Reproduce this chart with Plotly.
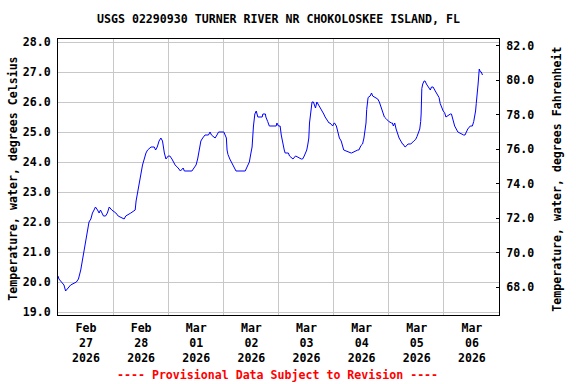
import datetime as dt
import plotly.graph_objects as go

# ---- data (hours after 2026-02-27 00:00, water temperature in deg C) ----
hours = [
    0.0, 0.4, 1.5, 2.6, 3.3, 4.5, 5.5, 8.0, 8.9, 9.9, 10.6, 11.4, 12.1, 12.8, 13.5,
    14.3, 15.0, 15.7, 16.3, 17.2, 17.9, 18.5, 19.8, 20.7, 21.5, 22.3, 23.4, 25.2,
    26.2, 28.8, 29.5, 31.7, 33.6, 34.0, 34.6, 35.3, 36.1, 36.8, 37.5, 38.3, 39.0,
    40.5, 41.9, 42.5, 43.2, 44.0, 44.8, 45.5, 46.3, 47.0, 48.0, 48.7, 49.6, 50.2,
    51.0, 52.3, 53.3, 54.5, 55.0, 58.3, 59.3, 60.1, 60.8, 61.5, 62.2, 63.0, 64.0,
    65.5, 66.2, 66.8, 68.4, 69.2, 69.9, 72.2, 72.6, 73.3, 73.6, 74.0, 74.8, 75.5,
    76.2, 76.9, 77.5, 81.5, 82.0, 82.6, 83.3, 84.0, 84.5, 85.1, 85.7, 86.3, 86.6,
    87.0, 88.9, 89.2, 90.3, 90.5, 91.3, 92.0, 95.0, 95.3, 96.0, 96.7, 97.2, 97.6,
    98.0, 98.5, 98.9, 100.3, 100.8, 102.2, 102.3, 103.4, 103.5, 105.9, 106.5,
    107.2, 107.7, 108.3, 108.8, 109.2, 109.5, 109.9, 110.6, 111.2, 112.1, 112.7,
    113.5, 114.3, 115.2, 115.7, 116.3, 117.0, 118.0, 118.4, 119.3, 119.6, 120.2,
    120.4, 121.2, 121.6, 122.0, 122.5, 123.3, 124.0, 124.4, 127.6, 127.8, 130.5,
    131.0, 131.9, 132.6, 133.2, 133.6, 134.1, 134.4, 135.0, 135.9, 136.5, 137.0,
    138.4, 139.2, 139.9, 140.7, 141.4, 142.1, 142.8, 144.0, 145.2, 145.6, 146.0,
    146.6, 147.2, 147.8, 148.5, 150.0, 150.2, 151.1, 151.2, 152.4, 153.6, 154.9,
    155.7, 156.3, 156.8, 157.5, 157.9, 158.1, 158.4, 158.8, 159.4, 159.8, 160.4,
    161.1, 161.6, 162.1, 162.6, 163.3, 164.0, 164.7, 165.4, 165.9, 166.4, 167.0,
    167.7, 168.3, 168.9, 170.8, 171.3, 172.0, 172.7, 173.4, 174.1, 176.6, 177.2,
    177.8, 178.4, 179.5, 180.4, 181.0, 181.4, 181.8, 182.1, 182.6, 182.9, 183.4,
    183.9, 184.3, 184.8,
]
temps_c = [
    20.2, 20.1, 20.0, 19.9, 19.7, 19.8, 19.9, 20.0, 20.1, 20.4, 20.7, 21.0, 21.3, 21.6, 22.0,
    22.1, 22.3, 22.4, 22.5, 22.4, 22.3, 22.4, 22.2, 22.2, 22.3, 22.5, 22.4, 22.3,
    22.2, 22.1, 22.2, 22.3, 22.4, 22.7, 23.0, 23.3, 23.6, 23.9, 24.1, 24.3, 24.4,
    24.5, 24.5, 24.4, 24.5, 24.7, 24.8, 24.7, 24.3, 24.1, 24.2, 24.2, 24.1, 24.0,
    23.9, 23.8, 23.7, 23.8, 23.7, 23.7, 23.8, 23.9, 24.1, 24.4, 24.7, 24.8, 24.9,
    24.9, 25.0, 24.9, 24.8, 24.9, 25.0, 25.0, 24.9, 24.8, 24.4, 24.25, 24.1, 24.0,
    23.9, 23.8, 23.7, 23.7, 23.8, 23.9, 24.0, 24.3, 24.5, 25.2, 25.6, 25.7, 25.6,
    25.5, 25.5, 25.6, 25.6, 25.5, 25.35, 25.2, 25.2, 25.3, 25.2, 25.2, 24.9, 24.7,
    24.6, 24.4, 24.3, 24.3, 24.2, 24.1, 24.1, 24.2, 24.2, 24.1, 24.1, 24.2,
    24.3, 24.4, 24.6, 24.8, 25.3, 25.6, 26.0, 26.0, 25.8, 26.0, 25.9,
    25.8, 25.7, 25.6, 25.5, 25.4, 25.3, 25.3, 25.2, 25.2, 25.3, 25.3,
    25.2, 25.1, 25.0, 24.8, 24.7, 24.55, 24.4, 24.3, 24.3, 24.4, 24.4,
    24.55, 24.6, 24.8, 25.05, 25.3, 25.75, 26.15, 26.2, 26.3, 26.2, 26.15,
    26.1, 26.0, 25.8, 25.7, 25.5, 25.45, 25.35, 25.3, 25.3, 25.2, 25.3,
    25.1, 24.95, 24.8, 24.6, 24.6, 24.5, 24.5, 24.6, 24.6, 24.7, 24.75,
    24.85, 24.95, 25.1, 25.35, 25.6, 26.45, 26.6, 26.7, 26.7, 26.6, 26.5,
    26.45, 26.4, 26.5, 26.5, 26.4, 26.3, 26.2, 26.15, 25.95, 25.8, 25.7,
    25.65, 25.5, 25.6, 25.6, 25.4, 25.2, 25.1, 25.0, 24.9, 24.9, 25.0,
    25.1, 25.2, 25.2, 25.35, 25.5, 25.7, 25.95, 26.25, 26.6, 27.1, 27.0,
    27.0, 26.9, 26.8,
]
day_labels = ["Feb<br>27<br>2026", "Feb<br>28<br>2026", "Mar<br>01<br>2026", "Mar<br>02<br>2026",
              "Mar<br>03<br>2026", "Mar<br>04<br>2026", "Mar<br>05<br>2026", "Mar<br>06<br>2026"]
c_ticks = [19.0, 20.0, 21.0, 22.0, 23.0, 24.0, 25.0, 26.0, 27.0, 28.0]
f_ticks = [68.0, 70.0, 72.0, 74.0, 76.0, 78.0, 80.0, 82.0]

title_text = "USGS 02290930 TURNER RIVER NR CHOKOLOSKEE ISLAND, FL"
left_title = "Temperature, water, degrees Celsius"
right_title = "Temperature, water, degrees Fahrenheit"
footer_text = "---- Provisional Data Subject to Revision ----"

# ---- build ----
start = dt.datetime(2026, 2, 27)
times = [start + dt.timedelta(hours=h) for h in hours]
temps_f = [c * 1.8 + 32 for c in temps_c]
midnights = [start + dt.timedelta(days=i) for i in range(len(day_labels) + 1)]

FONT = "DejaVu Sans Mono"
FS = 11.6
PLOT_W = 441.0
half_day_px = int(round(PLOT_W / (len(midnights) - 1) / 2.0))

fig = go.Figure()
fig.add_trace(go.Scatter(x=times, y=temps_c, mode="lines",
                         line=dict(color="#0000FF", width=1), showlegend=False,
                         hoverinfo="skip"))
fig.add_trace(go.Scatter(x=times, y=temps_f, mode="lines", yaxis="y2",
                         line=dict(color="rgba(0,0,0,0)", width=0), showlegend=False,
                         hoverinfo="skip"))

fig.update_layout(
    width=576, height=384,
    margin=dict(l=58, r=77, t=39, b=69, pad=0),
    paper_bgcolor="white", plot_bgcolor="white",
    font=dict(family=FONT, size=FS, color="black", weight="bold"),
    xaxis=dict(
        type="date",
        range=[midnights[0], midnights[-1]],
        tickmode="array", tickvals=midnights[:-1], ticktext=day_labels,
        ticklabelshift=half_day_px, ticklabelstandoff=2,
        showgrid=True, gridcolor="#C8C8C8", gridwidth=1,
        ticks="", zeroline=False,
        showline=True, linecolor="black", linewidth=1, mirror=True,
        tickfont=dict(family=FONT, size=FS, color="black", weight="bold"),
    ),
    yaxis=dict(
        range=[18.9, 28.1],
        tickmode="array", tickvals=c_ticks, ticktext=[f"{v:.1f}" for v in c_ticks],
        showgrid=True, gridcolor="#C8C8C8", gridwidth=1, ticks="", zeroline=False,
        showline=True, linecolor="black", linewidth=1, mirror=True,
        ticklabelstandoff=4,
        tickfont=dict(family=FONT, size=FS, color="black", weight="bold"),
    ),
    yaxis2=dict(
        overlaying="y", side="right", anchor="x",
        range=[66.38, 82.39],
        tickmode="array", tickvals=f_ticks, ticktext=[f"{v:.1f}" for v in f_ticks],
        showgrid=False, zeroline=False, ticks="inside", ticklen=3, tickcolor="black",
        showline=True, linecolor="black", linewidth=1,
        ticklabelstandoff=4,
        tickfont=dict(family=FONT, size=FS, color="black", weight="bold"),
    ),
)

def px_to_paper_y(p):
    return (315.3 - p) / 276.0

def px_to_paper_x(p):
    return (p - 58.0) / PLOT_W

fig.add_annotation(text=title_text, xref="paper", yref="paper",
                   x=px_to_paper_x(278.5), y=px_to_paper_y(19), showarrow=False,
                   xanchor="center", yanchor="middle",
                   font=dict(family=FONT, size=FS, color="black", weight="bold"))
fig.add_annotation(text=left_title, xref="paper", yref="paper",
                   x=px_to_paper_x(13), y=px_to_paper_y(179), showarrow=False,
                   textangle=-90, xanchor="center", yanchor="middle",
                   font=dict(family=FONT, size=FS, color="black", weight="bold"))
fig.add_annotation(text=right_title, xref="paper", yref="paper",
                   x=px_to_paper_x(557), y=px_to_paper_y(180), showarrow=False,
                   textangle=-90, xanchor="center", yanchor="middle",
                   font=dict(family=FONT, size=FS, color="black", weight="bold"))
fig.add_annotation(text=footer_text, xref="paper", yref="paper",
                   x=px_to_paper_x(277), y=px_to_paper_y(375), showarrow=False,
                   xanchor="center", yanchor="middle",
                   font=dict(family=FONT, size=FS, color="#FF0000", weight="bold"))

fig.write_html("out.html", config={"displayModeBar": False},
               post_script="document.body.style.margin='0';document.body.style.padding='0';")
